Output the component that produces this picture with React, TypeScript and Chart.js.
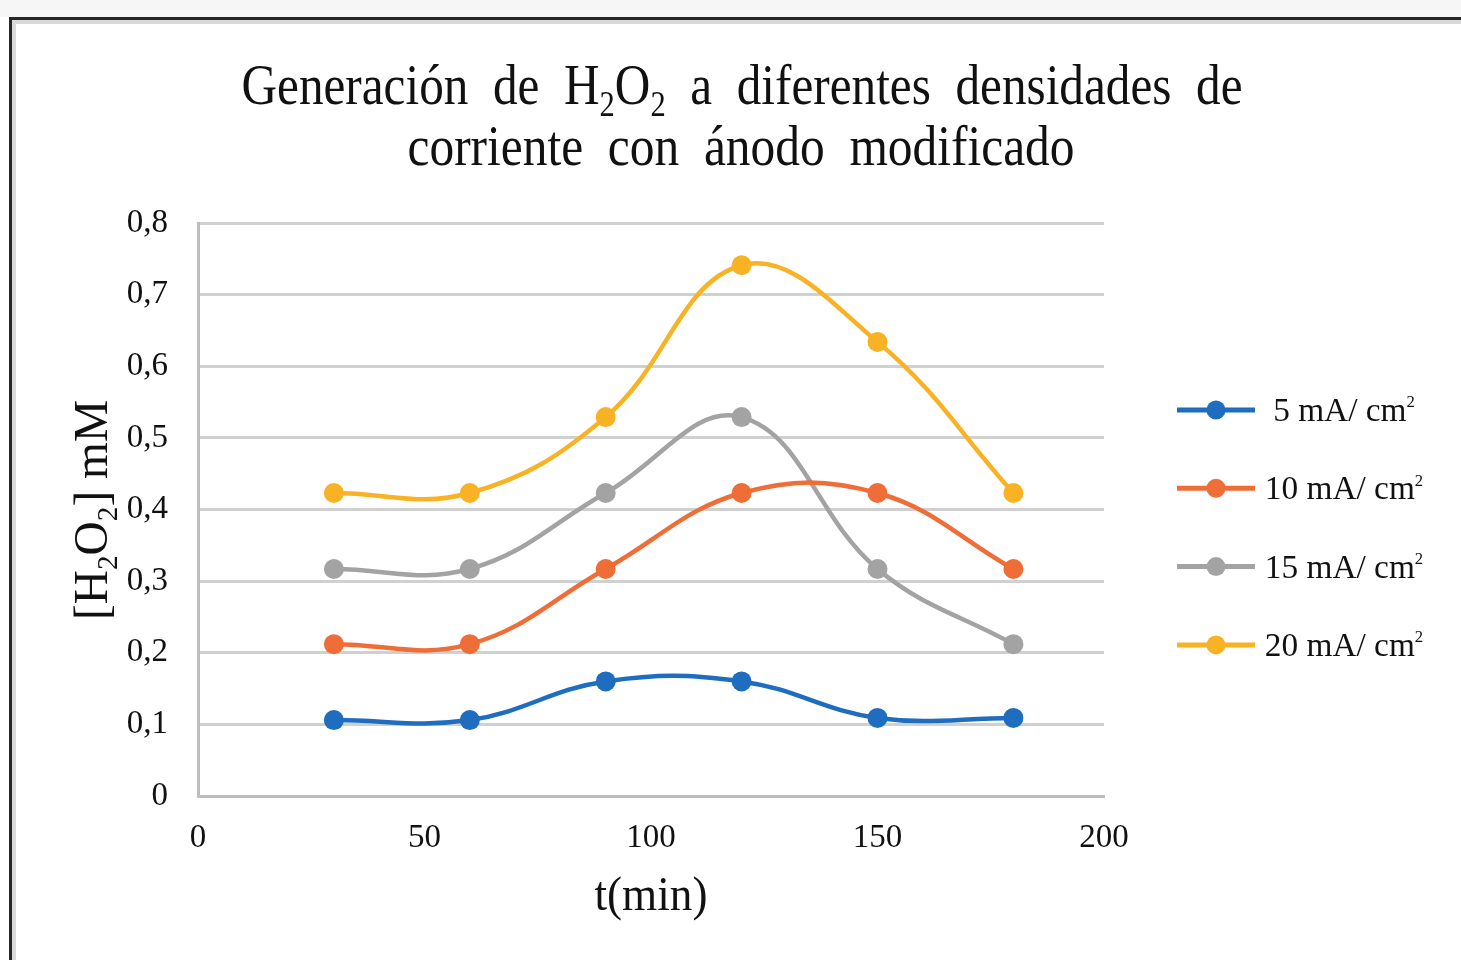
import React, { useEffect, useRef } from 'react';
import { Chart, registerables } from 'chart.js';

Chart.register(...registerables);

// ---- data ----
const timeMin = [30, 60, 90, 120, 150, 180];
const seriesLabels = ['5 mA/ cm²', '10 mA/ cm²', '15 mA/ cm²', '20 mA/ cm²'];
const h2o2At5 = [0.106, 0.106, 0.16, 0.16, 0.109, 0.109];
const h2o2At10 = [0.212, 0.212, 0.317, 0.423, 0.423, 0.317];
const h2o2At15 = [0.317, 0.317, 0.423, 0.529, 0.317, 0.212];
const h2o2At20 = [0.423, 0.423, 0.529, 0.741, 0.634, 0.423];
const yTickLabels = ['0', '0,1', '0,2', '0,3', '0,4', '0,5', '0,6', '0,7', '0,8'];
const xTickLabels = ['0', '50', '100', '150', '200'];
const seriesColors = ['#1f6dbf', '#ef6d36', '#a3a3a3', '#f8b224'];

const SERIF = '"Liberation Serif", "Times New Roman", serif';

type Seg = [string, number]; // 0 normal, 1 sub, 2 sup

function segFont(size: number, kind: number) {
  const s = kind === 1 ? size * 0.62 : kind === 2 ? size * 0.5 : size;
  return `${s}px ${SERIF}`;
}
function measureRich(ctx: CanvasRenderingContext2D, segs: Seg[], size: number) {
  let w = 0;
  for (const [t, k] of segs) {
    ctx.font = segFont(size, k);
    w += ctx.measureText(t).width;
  }
  return w;
}
function paintRich(ctx: CanvasRenderingContext2D, segs: Seg[], size: number) {
  let x = 0;
  for (const [t, k] of segs) {
    ctx.font = segFont(size, k);
    const dy = k === 1 ? size * 0.2 : k === 2 ? -size * 0.4 : 0;
    ctx.fillText(t, x, dy);
    x += ctx.measureText(t).width;
  }
}
// draw centred rich text fitted to target width (horizontal condensing)
function drawFitted(
  ctx: CanvasRenderingContext2D,
  segs: Seg[],
  size: number,
  cx: number,
  baseline: number,
  targetW: number,
  rotate = false
) {
  const w = measureRich(ctx, segs, size);
  const sx = targetW / w;
  ctx.save();
  ctx.translate(cx, baseline);
  if (rotate) ctx.rotate(-Math.PI / 2);
  ctx.translate((-w * sx) / 2, 0);
  ctx.scale(sx, 1);
  ctx.textBaseline = 'alphabetic';
  ctx.textAlign = 'left';
  paintRich(ctx, segs, size);
  ctx.restore();
}

const framePlugin = {
  id: 'framePlugin',
  beforeDraw(chart: any) {
    const ctx = chart.ctx as CanvasRenderingContext2D;
    const W = chart.width;
    const H = chart.height;
    ctx.save();
    ctx.fillStyle = '#ffffff';
    ctx.fillRect(0, 0, W, H);
    ctx.fillStyle = '#f6f6f6';
    ctx.fillRect(0, 0, W, 17);
    ctx.fillStyle = '#d9d9d9';
    ctx.fillRect(12, 20, 4, H - 20);
    ctx.fillRect(12, 20, W - 12, 4);
    ctx.fillStyle = '#262626';
    ctx.fillRect(9, 17, 3, H - 17);
    ctx.fillRect(9, 17, W - 9, 3);
    ctx.restore();
  },
};

const textPlugin = {
  id: 'textPlugin',
  afterDraw(chart: any) {
    const ctx = chart.ctx as CanvasRenderingContext2D;
    ctx.save();
    ctx.fillStyle = '#111111';
    // title
    drawFitted(
      ctx,
      [
        ['Generación  de  H', 0],
        ['2', 1],
        ['O', 0],
        ['2', 1],
        ['  a  diferentes  densidades  de', 0],
      ],
      58,
      742,
      104,
      1001
    );
    drawFitted(ctx, [['corriente  con  ánodo  modificado', 0]], 58, 741, 165, 667);
    // axis titles
    drawFitted(
      ctx,
      [
        ['[H', 0],
        ['2', 1],
        ['O', 0],
        ['2', 1],
        ['] mM', 0],
      ],
      48,
      107,
      510,
      220,
      true
    );
    drawFitted(ctx, [['t(min)', 0]], 48, 651, 910, 113);

    // legend
    const lx0 = 1177;
    const lx1 = 1255;
    const ly0 = 410;
    const lstep = 78.3;
    chart.data.datasets.forEach((ds: any, i: number) => {
      const y = ly0 + i * lstep;
      ctx.strokeStyle = ds.borderColor;
      ctx.lineWidth = 5;
      ctx.lineCap = 'butt';
      ctx.beginPath();
      ctx.moveTo(lx0, y);
      ctx.lineTo(lx1, y);
      ctx.stroke();
      ctx.fillStyle = ds.backgroundColor;
      ctx.beginPath();
      ctx.arc((lx0 + lx1) / 2, y, 9.5, 0, Math.PI * 2);
      ctx.fill();
      const label: string = ds.label;
      const segs: Seg[] = label.endsWith('²')
        ? [
            [label.slice(0, -1), 0],
            ['2', 2],
          ]
        : [[label, 0]];
      ctx.fillStyle = '#111111';
      const size = 34;
      const w = measureRich(ctx, segs, size);
      const sx = 0.98;
      ctx.save();
      ctx.translate(1344 - (w * sx) / 2, y + 11);
      ctx.scale(sx, 1);
      ctx.textAlign = 'left';
      ctx.textBaseline = 'alphabetic';
      paintRich(ctx, segs, size);
      ctx.restore();
    });
    ctx.restore();
  },
};

export default function App() {
  const ref = useRef<HTMLCanvasElement | null>(null);

  useEffect(() => {
    const canvas = ref.current;
    if (!canvas) return;
    const seriesValues = [h2o2At5, h2o2At10, h2o2At15, h2o2At20];
    const chart = new Chart(canvas, {
      type: 'line',
      data: {
        datasets: seriesValues.map((vals, i) => ({
          label: seriesLabels[i],
          data: timeMin.map((t, j) => ({ x: t, y: vals[j] })),
          borderColor: seriesColors[i],
          backgroundColor: seriesColors[i],
          borderWidth: 4.5,
          pointRadius: 10,
          pointBorderWidth: 0,
          pointBackgroundColor: seriesColors[i],
          tension: 0.4,
          fill: false,
        })),
      },
      options: {
        responsive: false,
        animation: false,
        events: [],
        layout: { padding: { left: 0, top: 223, right: 357, bottom: 64 } },
        plugins: {
          legend: { display: false },
          title: { display: false },
          tooltip: { enabled: false },
        },
        scales: {
          x: {
            type: 'linear',
            min: 0,
            max: 200,
            ticks: {
              stepSize: 50,
              padding: 23,
              color: '#111111',
              font: { family: SERIF, size: 33 },
              callback: (_v: any, idx: number) => xTickLabels[idx],
            },
            grid: { display: false, drawTicks: false },
            border: { display: true, color: '#bdbdbd', width: 3 },
            afterFit: (scale: any) => {
              scale.height = 100;
            },
          },
          y: {
            type: 'linear',
            min: 0,
            max: 0.8,
            ticks: {
              stepSize: 0.1,
              padding: 30,
              color: '#111111',
              font: { family: SERIF, size: 33 },
              callback: (_v: any, idx: number) => yTickLabels[idx],
            },
            grid: { display: true, drawTicks: false, color: '#d0d0d0', lineWidth: 3 },
            border: { display: true, color: '#bdbdbd', width: 3 },
            afterFit: (scale: any) => {
              scale.width = 198;
            },
          },
        },
      },
      plugins: [framePlugin, textPlugin],
    });
    return () => chart.destroy();
  }, []);

  return (
    <div style={{ position: 'fixed', left: 0, top: 0, width: 1461, height: 960, background: '#fff' }}>
      <canvas ref={ref} width={1461} height={960} style={{ display: 'block' }} />
    </div>
  );
}
